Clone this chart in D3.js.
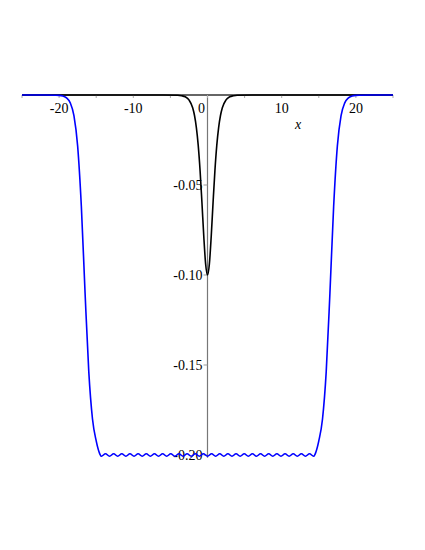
<!DOCTYPE html>
<html>
<head>
<meta charset="utf-8">
<script src="https://cdn.jsdelivr.net/npm/d3@7"></script>
<style>
  body { margin: 0; background: #fff; }
</style>
</head>
<body>
<div class="chart"></div>
<script>

// values
var xTicks = [-20, -10, 0, 10, 20];
var xMinor = [-25, -15, -5, 5, 15, 25];
var yTicks = [-0.05, -0.10, -0.15, -0.20];
var yTickLabels = ["-0.05", "-0.10", "-0.15", "-0.20"];

// black: narrow dip at the origin
var blackX = [-25, -8, -6, -4, -3.5, -3, -2.5, -2, -1.75, -1.5, -1.25, -1, -0.75, -0.5, -0.25, 0,
              0.25, 0.5, 0.75, 1, 1.25, 1.5, 1.75, 2, 2.5, 3, 3.5, 4, 6, 8, 25];
var blackY = [0, 0, 0, -0.0001, -0.0004, -0.001, -0.0027, -0.0071, -0.0114, -0.0181, -0.028, -0.042, -0.0597, -0.0786, -0.094, -0.1,
              -0.094, -0.0786, -0.0597, -0.042, -0.028, -0.0181, -0.0114, -0.0071, -0.0027, -0.001, -0.0004, -0.0001, 0, 0, 0];

// blue: wide flat-bottomed well, edges
var blueLeftX = [-25, -22, -20.5, -20, -19.5, -19, -18.5, -18, -17.5, -17, -16.5, -16, -15.5, -15, -14.6];
var blueLeftY = [0, 0, -0.0001, -0.0002, -0.0006, -0.0016, -0.0044, -0.0115, -0.0284, -0.062, -0.11, -0.1537, -0.18, -0.1922, -0.1985];
var blueRightX = [14.6, 15, 15.5, 16, 16.5, 17, 17.5, 18, 18.5, 19, 19.5, 20, 20.5, 22, 25];
var blueRightY = [-0.1985, -0.1922, -0.18, -0.1537, -0.11, -0.062, -0.0284, -0.0115, -0.0044, -0.0016, -0.0006, -0.0002, -0.0001, 0, 0];

// blue: ripples along the bottom
var rippleX = [-14.3, -13.75, -13.2, -12.65, -12.1, -11.55, -11, -10.45, -9.9, -9.35, -8.8, -8.25, -7.7, -7.15,
               -6.6, -6.05, -5.5, -4.95, -4.4, -3.85, -3.3, -2.75, -2.2, -1.65, -1.1, -0.55, 0,
               0.55, 1.1, 1.65, 2.2, 2.75, 3.3, 3.85, 4.4, 4.95, 5.5, 6.05, 6.6, 7.15, 7.7, 8.25,
               8.8, 9.35, 9.9, 10.45, 11, 11.55, 12.1, 12.65, 13.2, 13.75, 14.3];
var rippleY = [-0.2007, -0.1993, -0.2007, -0.1993, -0.2007, -0.1993, -0.2007, -0.1993, -0.2007, -0.1993, -0.2007, -0.1993, -0.2007, -0.1993,
               -0.2007, -0.1993, -0.2007, -0.1993, -0.2007, -0.1993, -0.2007, -0.1993, -0.2007, -0.1993, -0.2007, -0.1993, -0.2007,
               -0.1993, -0.2007, -0.1993, -0.2007, -0.1993, -0.2007, -0.1993, -0.2007, -0.1993, -0.2007, -0.1993, -0.2007, -0.1993, -0.2007, -0.1993,
               -0.2007, -0.1993, -0.2007, -0.1993, -0.2007, -0.1993, -0.2007, -0.1993, -0.2007, -0.1993, -0.2007];

var width = 425,
    height = 550,
    serif = "'Liberation Serif', 'Times New Roman', 'DejaVu Serif', serif";

var svg = d3.select(".chart")
  .append("svg")
  .attr("width", width)
  .attr("height", height);

var x = d3.scaleLinear()
  .domain([-25, 25])
  .range([22, 393]);

var y = d3.scaleLinear()
  .domain([-0.2, 0])
  .range([455, 95]);

var black = blackX.map(function(v, i) { return {x: v, y: blackY[i]}; });
var blue = []
  .concat(blueLeftX.map(function(v, i) { return {x: v, y: blueLeftY[i]}; }))
  .concat(rippleX.map(function(v, i) { return {x: v, y: rippleY[i]}; }))
  .concat(blueRightX.map(function(v, i) { return {x: v, y: blueRightY[i]}; }));

// y axis (vertical, at x = 0)
svg.append("line")
  .attr("x1", x(0)).attr("x2", x(0))
  .attr("y1", y(0)).attr("y2", y(-0.2015))
  .attr("stroke", "#777")
  .attr("stroke-width", 1.2);

svg.selectAll(".ytick")
  .data(yTicks)
  .enter().append("line")
  .attr("class", "ytick")
  .attr("x1", x(0) - 4).attr("x2", x(0))
  .attr("y1", function(d) { return y(d); })
  .attr("y2", function(d) { return y(d); })
  .attr("stroke", "#999");

svg.selectAll(".ylab")
  .data(yTicks)
  .enter().append("text")
  .attr("class", "ylab")
  .attr("x", x(0) - 5)
  .attr("y", function(d) { return y(d) + 5; })
  .attr("text-anchor", "end")
  .attr("font-family", serif)
  .attr("font-size", 14)
  .text(function(d, i) { return yTickLabels[i]; });

// x axis (horizontal, at y = 0)
svg.append("line")
  .attr("x1", x(-25)).attr("x2", x(25))
  .attr("y1", y(0)).attr("y2", y(0))
  .attr("stroke", "#333")
  .attr("stroke-width", 1.5);

svg.selectAll(".xtick")
  .data(xTicks.concat(xMinor))
  .enter().append("line")
  .attr("class", "xtick")
  .attr("x1", function(d) { return x(d); })
  .attr("x2", function(d) { return x(d); })
  .attr("y1", y(0)).attr("y2", y(0) + 3)
  .attr("stroke", "#aaa");

svg.selectAll(".xlab")
  .data(xTicks)
  .enter().append("text")
  .attr("class", "xlab")
  .attr("x", function(d) { return d == 0 ? x(0) - 6 : x(d); })
  .attr("y", 113)
  .attr("text-anchor", "middle")
  .attr("font-family", serif)
  .attr("font-size", 14)
  .text(function(d) { return d; });

svg.append("text")
  .attr("x", 298)
  .attr("y", 129)
  .attr("text-anchor", "middle")
  .attr("font-family", serif)
  .attr("font-size", 14)
  .attr("font-style", "italic")
  .text("x");

var line = d3.line()
  .x(function(d) { return x(d.x); })
  .y(function(d) { return y(d.y); })
  .curve(d3.curveMonotoneX);

svg.append("path")
  .datum(black)
  .attr("d", line)
  .attr("fill", "none")
  .attr("stroke", "#000")
  .attr("stroke-width", 1.6);

svg.append("path")
  .datum(blue)
  .attr("d", line)
  .attr("fill", "none")
  .attr("stroke", "#0000ff")
  .attr("stroke-width", 1.6);

</script>
</body>
</html>
